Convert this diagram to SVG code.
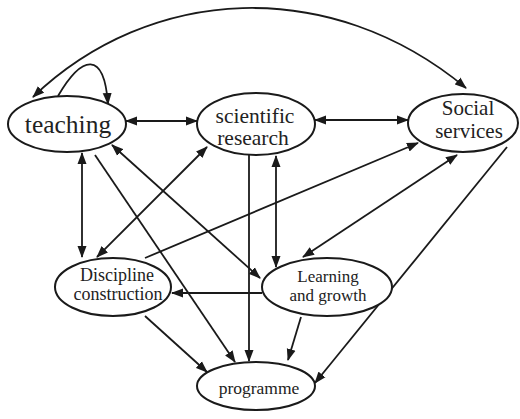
<svg xmlns="http://www.w3.org/2000/svg" width="520" height="419" viewBox="0 0 520 419">
<style>
.n ellipse{fill:#fff;stroke:#1a1a1a;stroke-width:2}
.n text{font-family:"Liberation Serif","Times New Roman",serif;fill:#222;text-anchor:middle}
.c path{fill:none;stroke:#1a1a1a;stroke-width:1.8}
.b{marker-start:url(#ah);marker-end:url(#ah)}
.e{marker-end:url(#ah)}
</style>
<defs>
<marker id="ah" markerUnits="userSpaceOnUse" markerWidth="12" markerHeight="10" refX="11" refY="4.5" orient="auto-start-reverse" viewBox="0 0 12 9">
<path d="M0,0 L12,4.5 L0,9 z" fill="#1a1a1a"/>
</marker>
</defs>
<rect width="520" height="419" fill="#fff"/>
<g id="connectors" class="c">
<path class="b" d="M126,121 L197,121"/>
<path class="b" d="M315,120 L408,120"/>
<path class="b" d="M33,97 C150,-15 330,-25 466,88"/>
<path class="e" d="M58,96 C82,55 104,50 108,104"/>
<path class="b" d="M82,153 L82,257"/>
<path class="e" d="M95,155 L235,362"/>
<path class="b" d="M112,145 L260,278"/>
<path class="b" d="M207,147 L97,257"/>
<path class="e" d="M249,155 L249,361"/>
<path class="b" d="M276,156 L276,267"/>
<path class="e" d="M145,258 L418,143"/>
<path class="b" d="M457,155 L303,257"/>
<path class="e" d="M507,147 L315,383"/>
<path class="e" d="M262,293 L172,293"/>
<path class="e" d="M301,317 L288,360"/>
<path class="e" d="M145,316 L207,372"/>
</g>
<g id="teaching" class="n">
<ellipse cx="67" cy="124" rx="59" ry="28"/>
<text x="68" y="133" font-size="25.5">teaching</text>
</g>
<g id="scientific-research" class="n">
<ellipse cx="256" cy="124" rx="59" ry="31"/>
<text x="255" y="123" font-size="21.5">scientific</text>
<text x="253" y="145" font-size="21.5">research</text>
</g>
<g id="social-services" class="n">
<ellipse cx="463" cy="123" rx="55" ry="29"/>
<text x="468" y="115" font-size="21">Social</text>
<text x="469" y="138" font-size="21">services</text>
</g>
<g id="discipline-construction" class="n">
<ellipse cx="113" cy="287" rx="58" ry="29"/>
<text x="117" y="281" font-size="18">Discipline</text>
<text x="118" y="300" font-size="18">construction</text>
</g>
<g id="learning-growth" class="n">
<ellipse cx="327" cy="287" rx="65" ry="29"/>
<text x="328" y="282" font-size="17">Learning</text>
<text x="328" y="301" font-size="17">and growth</text>
</g>
<g id="programme" class="n">
<ellipse cx="256" cy="386" rx="59" ry="24"/>
<text x="259" y="394" font-size="17.5">programme</text>
</g>
</svg>
